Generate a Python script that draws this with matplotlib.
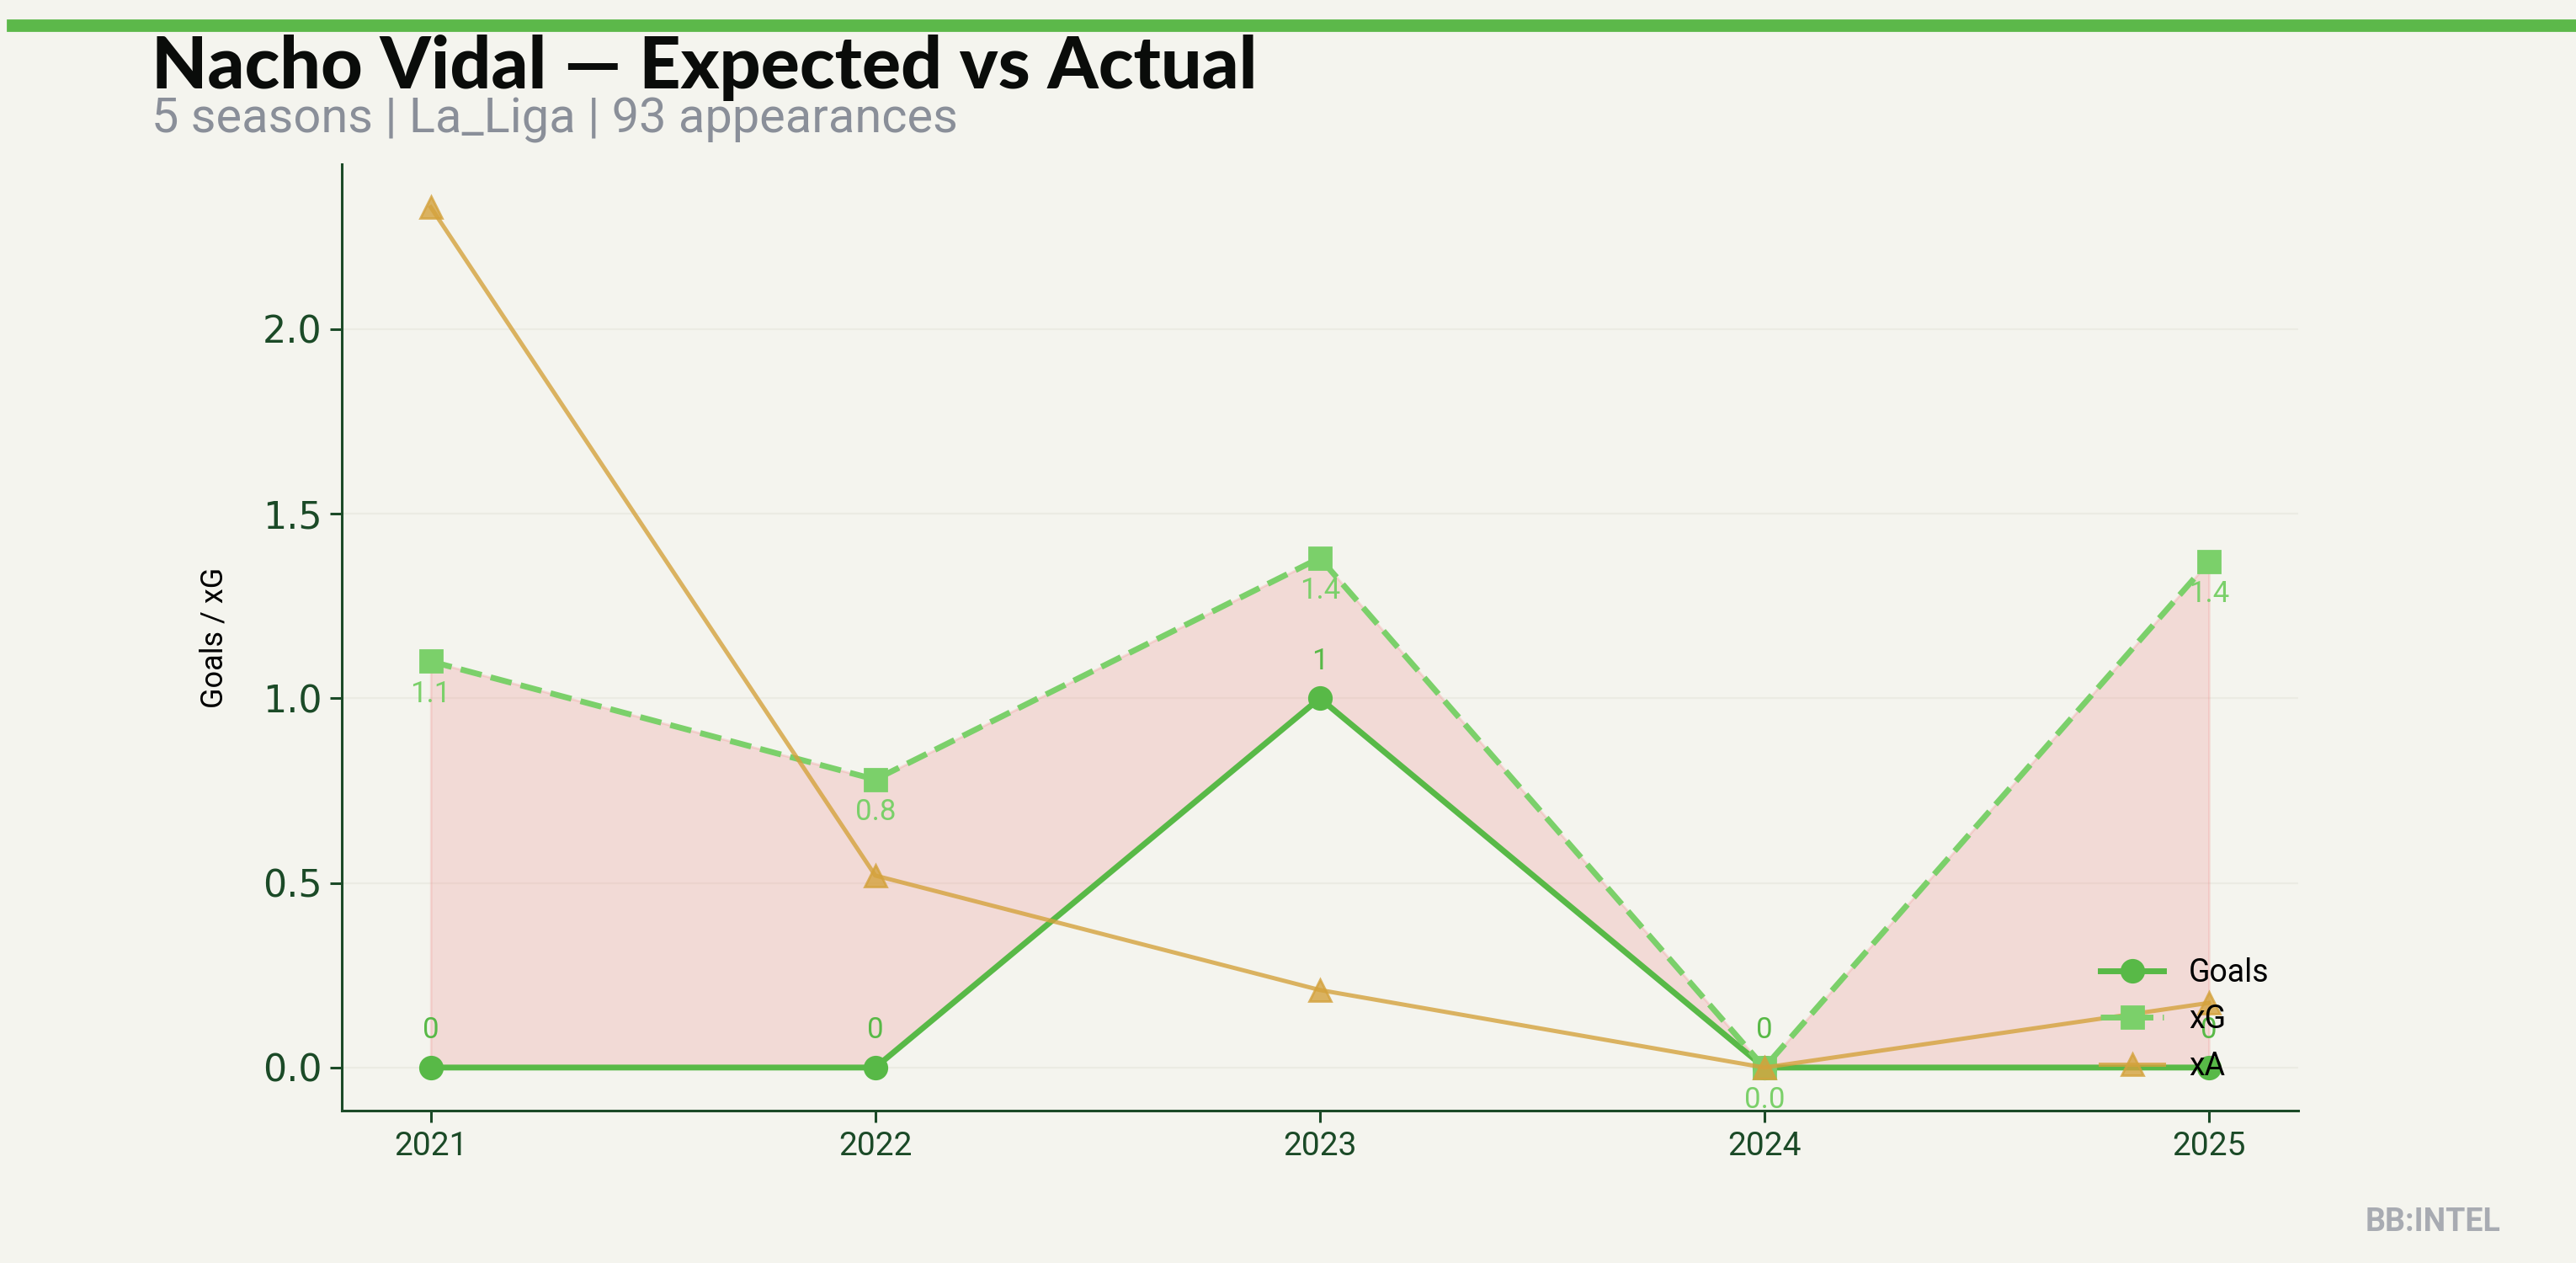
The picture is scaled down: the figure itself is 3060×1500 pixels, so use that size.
import matplotlib
matplotlib.use("Agg")
import matplotlib.pyplot as plt

# datos
temporadas = [2021, 2022, 2023, 2024, 2025]
goles = [0, 0, 1, 0, 0]
xg = [1.10, 0.78, 1.38, 0.0, 1.37]
xa = [2.33, 0.52, 0.21, 0.0, 0.175]

titulo = "Nacho Vidal \u2014 Expected vs Actual"
subtitulo = "5 seasons | La_Liga | 93 appearances"

fondo = "#f4f4ee"
verde = "#58b947"
verde_claro = "#7bd06a"
naranja = "#d4a23c"
verde_osc = "#1b4a27"

plt.rcParams["font.family"] = ["Roboto", "DejaVu Sans"]

fig = plt.figure(figsize=(15.3, 7.5), dpi=200, facecolor=fondo)
ax = fig.add_axes([0.1327, 0.1207, 0.7593, 0.7493])
ax.set_facecolor(fondo)

# barra verde superior
fig.patches.append(plt.Rectangle((0.003, 0.976), 0.997, 0.008, transform=fig.transFigure,
                                 color="#5cb84a", zorder=5))

ax.fill_between(temporadas, goles, xg, color="#ef8a8a", alpha=0.24, zorder=1)
ax.plot(temporadas, goles, color=verde, lw=2.5, marker="o", ms=9.5, label="Goals", zorder=3)
ax.plot(temporadas, xg, color=verde_claro, lw=2.5, ls="--", marker="s", ms=9.5, label="xG", zorder=3)
ax.plot(temporadas, xa, color=naranja, lw=1.8, marker="^", ms=9.5, alpha=0.8, label="xA", zorder=4)

for x, g, e in zip(temporadas, goles, xg):
    ax.annotate(f"{g}", (x, g), xytext=(0, 10), textcoords="offset points",
                ha="center", va="bottom", fontsize=12.5, color=verde)
    ax.annotate(f"{e:.1f}", (x, e), xytext=(0, -8), textcoords="offset points",
                ha="center", va="top", fontsize=12.5, color=verde_claro)

ax.set_xticks(temporadas)
ax.set_xticklabels([str(t) for t in temporadas], fontsize=14, color=verde_osc)
ax.tick_params(axis="y", labelsize=16, colors=verde_osc, length=5, width=1.1)
ax.tick_params(axis="x", colors=verde_osc, length=5, width=1.1)
for lab in ax.get_yticklabels():
    lab.set_family("DejaVu Sans")
ax.set_ylabel("Goals / xG", fontsize=13, color="black", labelpad=14)

for s in ["top", "right"]:
    ax.spines[s].set_visible(False)
for s in ["left", "bottom"]:
    ax.spines[s].set_color(verde_osc)
    ax.spines[s].set_linewidth(1.1)
ax.grid(axis="y", color="#ebebe3", lw=0.8)
ax.set_axisbelow(True)

ax.legend(loc="lower right", frameon=False, fontsize=13.5)

fig.text(0.0588, 0.93, titulo, fontsize=31, fontweight="black", family=["Lato", "DejaVu Sans"],
         color="#0a0c0a", va="baseline")
fig.text(0.0588, 0.895, subtitulo, fontsize=20.8, color="#8a8f99", va="baseline")
fig.text(0.9706, 0.025, "BB:INTEL", fontsize=13.5, fontweight="bold", color="#a8abb2",
         ha="right", va="baseline")

fig.savefig("out.png", dpi=200, facecolor=fondo)
